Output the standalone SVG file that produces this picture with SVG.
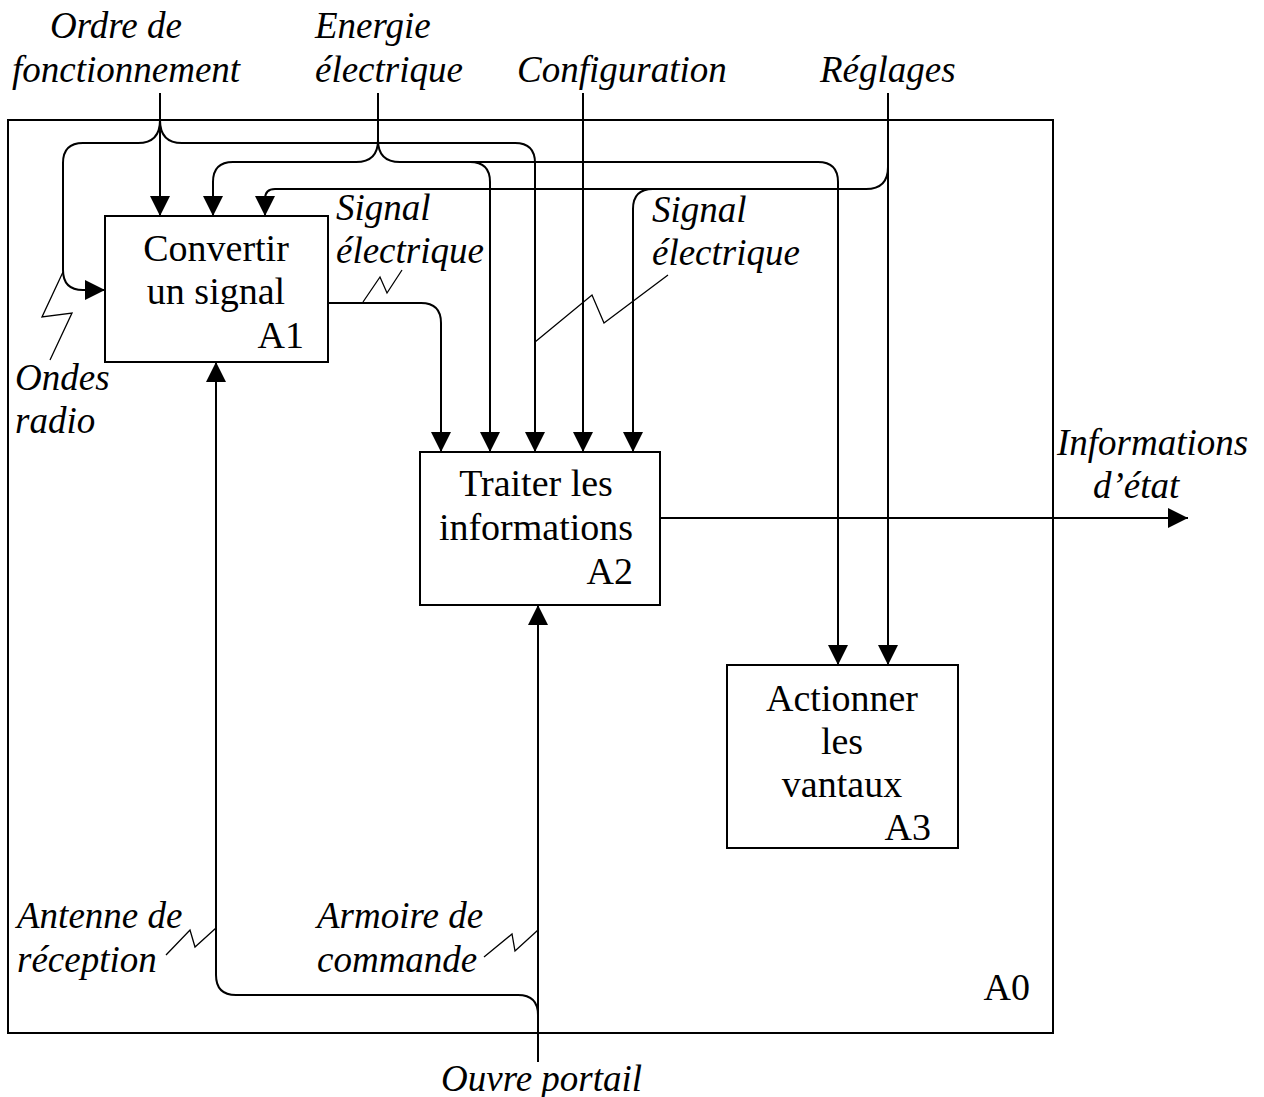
<svg xmlns="http://www.w3.org/2000/svg" width="1264" height="1097" viewBox="0 0 1264 1097">
<style>
.box{fill:#fff;stroke:#000;stroke-width:2}
.frame{fill:none;stroke:#000;stroke-width:2}
.ln{fill:none;stroke:#000;stroke-width:2}
.arr{fill:none;stroke:#000;stroke-width:2;marker-end:url(#ah)}
.sq{fill:none;stroke:#000;stroke-width:1.3}
.bt{font-family:"Liberation Serif","Times New Roman",serif;font-size:38px;fill:#000}
.lb{font-family:"Liberation Serif","Times New Roman",serif;font-size:37px;font-style:italic;fill:#000}
</style>
<defs>
<marker id="ah" markerUnits="userSpaceOnUse" viewBox="0 0 20 20" refX="20" refY="10" markerWidth="20" markerHeight="20" orient="auto">
<path d="M0,0 L20,10 L0,20 z" fill="#000"/>
</marker>
</defs>
<rect width="1264" height="1097" fill="#fff"/>
<g id="A0">
<rect class="frame" x="8" y="120" width="1045" height="913"/>
<text class="bt" x="1030" y="1000" text-anchor="end">A0</text>
</g>
<g id="connectors">
<!-- Ordre de fonctionnement -->
<path class="arr" d="M160,93 L160,216"/>
<path class="arr" d="M160,120 Q160,143 138,143 L83,143 Q63,143 63,163 L63,270 Q63,290 83,290 L105,290"/>
<path class="arr" d="M160,120 Q160,143 182,143 L515,143 Q535,143 535,163 L535,452"/>
<!-- Energie electrique -->
<path class="ln" d="M378,93 L378,140"/>
<path class="arr" d="M378,140 Q378,162 356,162 L233,162 Q213,162 213,182 L213,216"/>
<path class="arr" d="M378,140 Q378,162 400,162 L470,162 Q490,162 490,182 L490,452"/>
<path class="arr" d="M470,162 L818,162 Q838,162 838,182 L838,665"/>
<!-- Configuration -->
<path class="arr" d="M583,93 L583,452"/>
<!-- Reglages -->
<path class="arr" d="M888,93 L888,665"/>
<path class="arr" d="M888,167 Q888,189 866,189 L275,189 Q265,189 265,199 L265,216"/>
<path class="arr" d="M653,189 Q633,189 633,209 L633,452"/>
<!-- A1 -> A2 -->
<path class="arr" d="M328,303 L421,303 Q441,303 441,323 L441,452"/>
<!-- A2 output -->
<path class="arr" d="M660,518 L1188,518"/>
<!-- Ouvre portail -->
<path class="arr" d="M538,1062 L538,605"/>
<path class="arr" d="M538,1015 Q538,995 518,995 L236,995 Q216,995 216,975 L216,362"/>
<!-- squiggles -->
<polyline class="sq" points="363,302 380,277 387,293 402,270"/>
<polyline class="sq" points="535,342 592,295 604,323 668,275"/>
<polyline class="sq" points="63,272 42,317 72,313 50,360"/>
<polyline class="sq" points="166,955 190,930 195,947 216,928"/>
<polyline class="sq" points="484,957 512,934 515,951 538,930"/>
</g>
<g id="A1">
<rect class="box" x="105" y="216" width="223" height="146"/>
<text class="bt" x="216" y="261" text-anchor="middle">Convertir</text>
<text class="bt" x="216" y="304" text-anchor="middle">un signal</text>
<text class="bt" x="304" y="348" text-anchor="end">A1</text>
</g>
<g id="A2">
<rect class="box" x="420" y="452" width="240" height="153"/>
<text class="bt" x="536" y="496" text-anchor="middle">Traiter les</text>
<text class="bt" x="536" y="540" text-anchor="middle">informations</text>
<text class="bt" x="633" y="584" text-anchor="end">A2</text>
</g>
<g id="A3">
<rect class="box" x="727" y="665" width="231" height="183"/>
<text class="bt" x="842" y="711" text-anchor="middle">Actionner</text>
<text class="bt" x="842" y="754" text-anchor="middle">les</text>
<text class="bt" x="842" y="797" text-anchor="middle">vantaux</text>
<text class="bt" x="931" y="840" text-anchor="end">A3</text>
</g>
<g id="labels">
<text class="lb" x="50" y="38">Ordre de</text>
<text class="lb" x="12" y="82">fonctionnement</text>
<text class="lb" x="315" y="38">Energie</text>
<text class="lb" x="315" y="82">électrique</text>
<text class="lb" x="517" y="82">Configuration</text>
<text class="lb" x="820" y="82">Réglages</text>
<text class="lb" x="336" y="220">Signal</text>
<text class="lb" x="336" y="263">électrique</text>
<text class="lb" x="652" y="222">Signal</text>
<text class="lb" x="652" y="265">électrique</text>
<text class="lb" x="15" y="390">Ondes</text>
<text class="lb" x="15" y="433">radio</text>
<text class="lb" x="1057" y="455">Informations</text>
<text class="lb" x="1093" y="498">d’état</text>
<text class="lb" x="17" y="928">Antenne de</text>
<text class="lb" x="17" y="972">réception</text>
<text class="lb" x="317" y="928">Armoire de</text>
<text class="lb" x="317" y="972">commande</text>
<text class="lb" x="441" y="1091">Ouvre portail</text>
</g>
</svg>
